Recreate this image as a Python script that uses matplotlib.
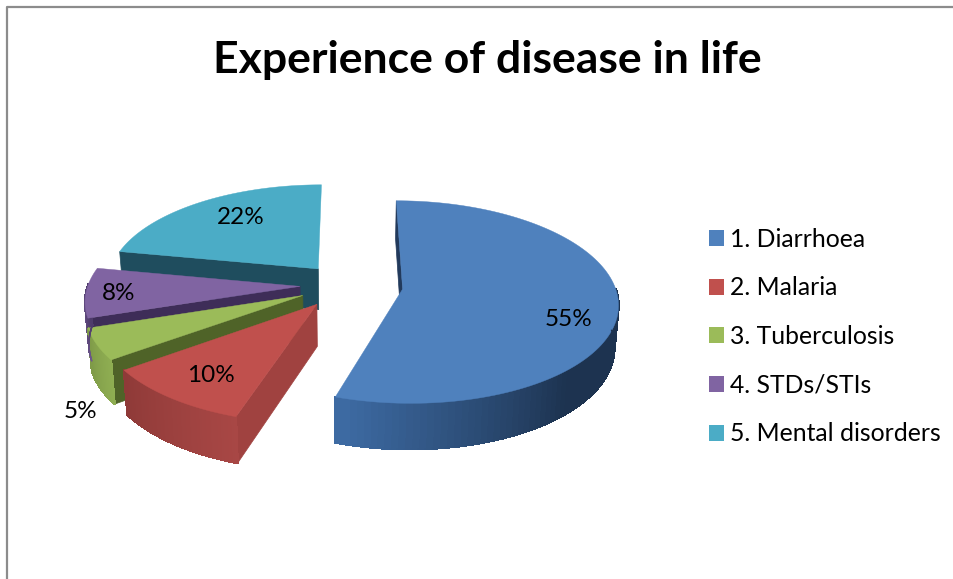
import numpy as np
import matplotlib
matplotlib.use('Agg')
import matplotlib.pyplot as plt
from matplotlib.patches import Patch

plt.rcParams['font.family'] = ['Lato', 'DejaVu Sans']

title = 'Experience of disease in life'
categories = ['1. Diarrhoea', '2. Malaria', '3. Tuberculosis', '4. STDs/STIs', '5. Mental disorders']
values = [55, 10, 5, 8, 22]

colors = ['#4F81BD', '#C0504D', '#9BBB59', '#8064A2', '#4BACC6']
face_colors = ['#223a5c', '#a04240', '#4f6328', '#3e2d58', '#1f4d5e']
wall_light = ['#3d6aa2', '#a84745', '#8fae52', '#6f5790', '#3f93aa']
wall_dark = ['#1d3350', '#8f3a38', '#7f9b48', '#3e2d58', '#1f4d5e']
explode = [56, 50, 49, 47, 46]
label_pos = [(569, 319), (211, 375), (80, 412), (119, 293), (241, 218)]

cx, cy = 347, 285
R, squash, persp = 212, 0.465, 0.0006
depth = 42


def project(u, v, z=0):
    s = 1 / (1 + persp * v)
    if z:
        s = s * 0.985
    return cx + u * s, cy - squash * v * s + z * depth * s


fig = plt.figure(figsize=(9.54, 5.79), dpi=100)
ax = fig.add_axes([0, 0, 1, 1])
ax.set_xlim(0, 954)
ax.set_ylim(579, 0)
ax.axis('off')

# outer frame, only top and left show
ax.plot([7.5, 7.5, 954], [579, 7, 7], color='#8c8c8c', lw=1.6)

ax.text(487, 60, title, ha='center', va='center', fontsize=32, fontweight='bold', color='black')

ends = np.cumsum(values) / sum(values) * 2 * np.pi
starts = np.r_[0, ends[:-1]]

# back to front: cyan, purple, green, red, blue
for i in [4, 3, 2, 1, 0]:
    mid = (starts[i] + ends[i]) / 2
    au, av = explode[i] * np.sin(mid), explode[i] * np.cos(mid)
    t = np.linspace(starts[i], ends[i], 120)
    u = au + R * np.sin(t)
    v = av + R * np.cos(t)

    # cut face on the start side
    p0 = project(au, av)
    p1 = project(u[0], v[0])
    q1 = project(u[0], v[0], 1)
    q0 = project(au, av, 1)
    ax.fill([p0[0], p1[0], q1[0], q0[0]], [p0[1], p1[1], q1[1], q0[1]], color=face_colors[i], lw=0.5)

    # outer wall, small strips for the shading
    c0 = np.array(matplotlib.colors.to_rgb(wall_light[i]))
    c1 = np.array(matplotlib.colors.to_rgb(wall_dark[i]))
    for j in range(len(t) - 1):
        if np.cos(t[j]) > 0.02:
            continue
        if i == 0:
            f = np.clip((3.4 - t[j]) / 1.0, 0, 1)
        else:
            f = np.clip((t[j] - starts[i]) / (ends[i] - starts[i]), 0, 1)
        col = c0 + (c1 - c0) * f
        a, b = project(u[j], v[j]), project(u[j + 1], v[j + 1])
        c, d = project(u[j + 1], v[j + 1], 1), project(u[j], v[j], 1)
        ax.fill([a[0], b[0], c[0], d[0]], [a[1], b[1], c[1], d[1]], color=col, lw=1, antialiased=False)
        ax.plot([c[0], d[0]], [c[1], d[1]], color=col, lw=1)

    # top surface
    top = [project(au, av)] + [project(a, b) for a, b in zip(u, v)]
    ax.fill([p[0] for p in top], [p[1] for p in top], color=colors[i], lw=0.3)

for val, pos in zip(values, label_pos):
    ax.text(pos[0], pos[1], f'{val}%', ha='center', va='center', fontsize=17.5, color='black')

handles = [Patch(facecolor=c, edgecolor='none') for c in colors]
ax.legend(handles, categories, loc='upper left', bbox_to_anchor=(709, 227.6), bbox_transform=ax.transData,
          frameon=False, fontsize=17.8, borderpad=0, borderaxespad=0, handlelength=0.61, handleheight=0.61,
          handletextpad=0.24, labelspacing=1.04)

fig.savefig('out.png', dpi=100)
